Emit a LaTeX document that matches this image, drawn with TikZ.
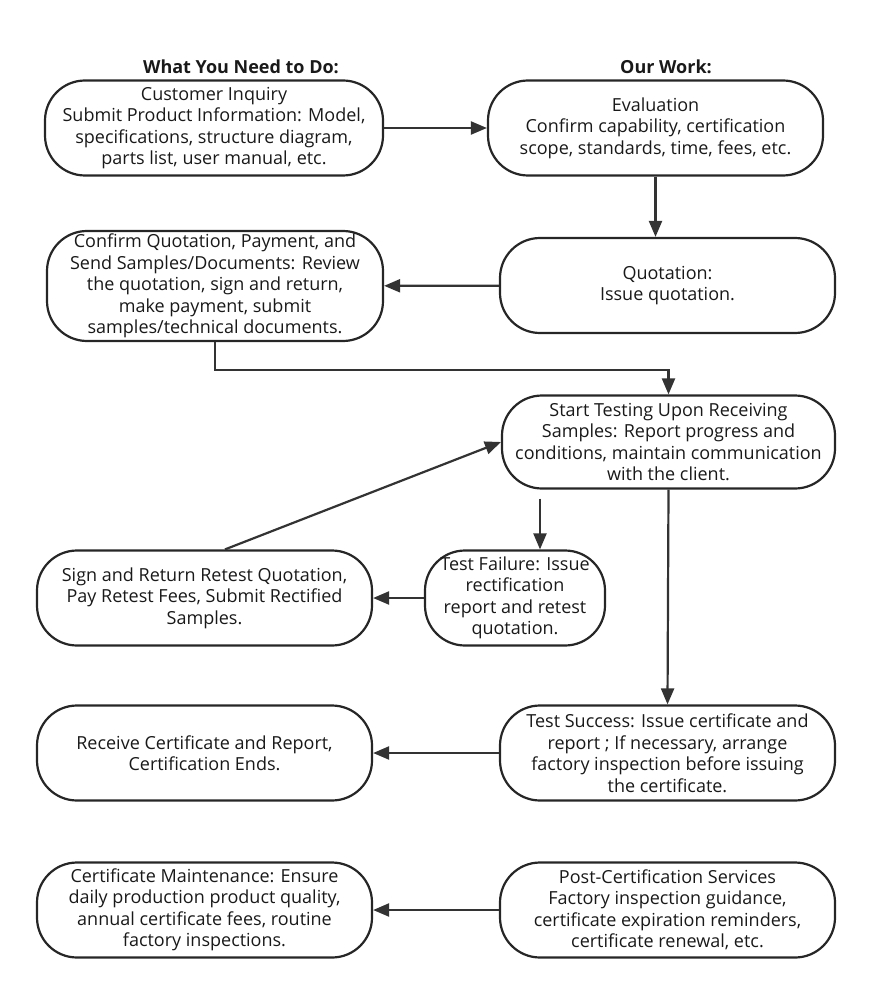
\documentclass[tikz,border=0pt]{standalone}
\usepackage{fontspec}
\setmainfont{Open Sans}
\usetikzlibrary{arrows.meta}
\usetikzlibrary{positioning}

\begin{document}
\begin{tikzpicture}[x=1pt,y=-1pt,
        stage/.style={draw=black!85,line width=2.2pt,rounded corners=40pt,align=center,
            inner sep=0pt,minimum width=335pt,minimum height=95pt,
            font=\fontsize{18}{21.5}\selectfont,text=black!90},
        flow/.style={draw=black!80,line width=2.2pt,-{Triangle[length=16pt,width=13pt]}},
        colhead/.style={font=\fontsize{18}{21}\bfseries,text=black!90}]
        \useasboundingbox (0,0) rectangle (871,992);
        %\fill[white] (0,0) rectangle (871,992);

        \node[colhead] (headleft) at (241,67) {What You Need to Do:};
        \node[colhead] (headright) at (666,67) {Our Work:};

        % first row
        \node[stage,minimum width=338pt] (inquiry) at (214,128) {Customer Inquiry\\Submit Product Information: Model,\\specifications, structure diagram,\\parts list, user manual, etc.};
        \node[stage] (evaluation) at (655.5,128) {Evaluation\\Confirm capability, certification\\scope, standards, time, fees, etc.};

        % quotation row
        \node[stage] (quotation) at (667.5,285.5) {Quotation:\\Issue quotation.};
        \node[stage,minimum width=336pt,minimum height=110pt] (confirm) at (215,286) {Confirm Quotation, Payment, and\\Send Samples/Documents: Review\\the quotation, sign and return,\\make payment, submit\\samples/technical documents.};

        % testing
        \node[stage,minimum width=333pt,minimum height=93pt] (testing) at (668.5,442) {Start Testing Upon Receiving\\Samples: Report progress and\\conditions, maintain communication\\with the client.};
        \node[stage,minimum width=180pt] (failure) at (515,598) {Test Failure: Issue\\rectification\\report and retest\\quotation.};
        \node[stage] (retest) at (204.5,598) {Sign and Return Retest Quotation,\\Pay Retest Fees, Submit Rectified\\Samples.};

        % results
        \node[stage] (success) at (667.5,753) {Test Success: Issue certificate and\\report ; If necessary, arrange\\factory inspection before issuing\\the certificate.};
        \node[stage] (receive) at (204.5,753) {Receive Certificate and Report,\\Certification Ends.};

        % after certification
        \node[stage] (service) at (667.5,910) {Post-Certification Services\\Factory inspection guidance,\\certificate expiration reminders,\\certificate renewal, etc.};
        \node[stage] (maintain) at (204.5,910) {Certificate Maintenance: Ensure\\daily production product quality,\\annual certificate fees, routine\\factory inspections.};

        \draw[flow] (inquiry) -- (evaluation);
        \draw[flow] (evaluation.south) -- (evaluation.south |- quotation.north);
        \draw[flow] (quotation) -- (confirm);
        \draw[flow] (confirm.south) -- ++(0,28) -| (testing.north);
        \draw[flow] ([xshift=25pt]failure.north |- testing.south) ++(0,9) -- ([xshift=25pt]failure.north);
        \draw[flow] (failure) -- (retest);
        \draw[flow] ([xshift=20.5pt]retest.north) -- (testing.west);
        \draw[flow] (testing.south) -- (success.north);
        \draw[flow] (success) -- (receive);
        \draw[flow] (service) -- (maintain);
    \end{tikzpicture}
\end{document}
